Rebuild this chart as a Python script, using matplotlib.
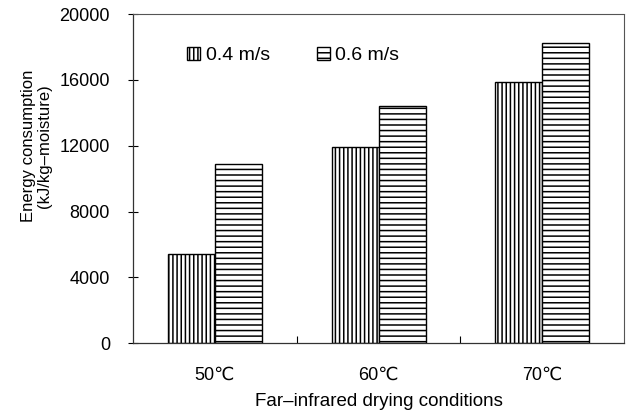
import numpy as np
import matplotlib
matplotlib.use("Agg")
import matplotlib.pyplot as plt

plt.rcParams['font.family'] = ['Liberation Sans', 'DejaVu Sans']
plt.rcParams['hatch.linewidth'] = 1.1

# data
conditions = ["50\u2103", "60\u2103", "70\u2103"]
speed_04 = [5400, 11900, 15850]
speed_06 = [10900, 14400, 18250]
labels = ["0.4 m/s", "0.6 m/s"]

fig = plt.figure(figsize=(6.33, 4.17), dpi=100)
ax = fig.add_axes([0.210, 0.177, 0.776, 0.789])

x = np.arange(len(conditions))
w = 0.287
ax.bar(x - w / 2, speed_04, w, color='white', edgecolor='black', hatch='||||',
       linewidth=1.0, label=labels[0])
ax.bar(x + w / 2, speed_06, w, color='white', edgecolor='black', hatch='---',
       linewidth=1.0, label=labels[1])

ax.set_xlim(-0.5, 2.5)
ax.set_ylim(0, 20000)
ax.set_yticks([0, 4000, 8000, 12000, 16000, 20000])
ax.tick_params(axis='y', direction='inout', length=7, width=0.8, labelsize=13, pad=13)

# category labels centred, tick marks between categories
ax.set_xticks(x)
ax.set_xticklabels(conditions, fontsize=13)
ax.tick_params(axis='x', length=0, pad=17)
ax.set_xticks([0.5, 1.5], minor=True)
ax.tick_params(axis='x', which='minor', direction='in', length=5, width=0.8)

ax.set_ylabel("Energy consumption\n(kJ/kg\u2013moisture)", fontsize=12, linespacing=1.05)
ax.yaxis.set_label_coords(-0.165, 0.60)
ax.set_xlabel("Far\u2013infrared drying conditions", fontsize=13.5)
ax.xaxis.set_label_coords(0.5, -0.15)

for side in ['top', 'right']:
    ax.spines[side].set_linestyle((0, (2, 1)))
    ax.spines[side].set_color('#555555')
    ax.spines[side].set_linewidth(0.8)
for side in ['left', 'bottom']:
    ax.spines[side].set_color('#333333')
    ax.spines[side].set_linewidth(0.9)

ax.legend(loc='upper left', bbox_to_anchor=(0.11, 0.90), ncol=2, frameon=False,
          fontsize=14, handlelength=0.67, handleheight=0.65, handletextpad=0.3,
          columnspacing=2.4, borderpad=0, borderaxespad=0)

fig.savefig("out.png", dpi=100)
